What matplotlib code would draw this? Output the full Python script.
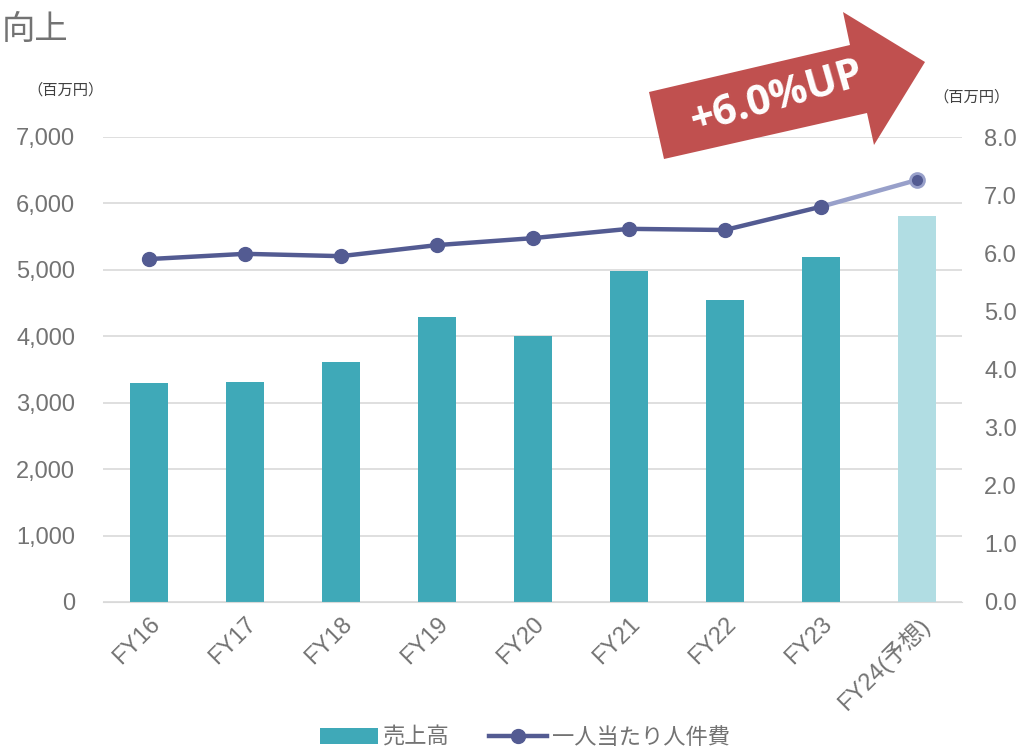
import matplotlib.pyplot as plt
from matplotlib.patches import Polygon, Patch
from matplotlib.lines import Line2D

plt.rcParams['font.family'] = ['Liberation Sans', 'Noto Sans CJK JP', 'DejaVu Sans']

categories = ['FY16', 'FY17', 'FY18', 'FY19', 'FY20', 'FY21', 'FY22', 'FY23', 'FY24(予想)']
sales = [3290, 3310, 3610, 4290, 4000, 4980, 4540, 5190, 5810]
cost_per_person = [5.90, 5.99, 5.95, 6.14, 6.26, 6.42, 6.40, 6.80, 7.26]
left_ticks = [0, 1000, 2000, 3000, 4000, 5000, 6000, 7000]
right_ticks = [0, 1, 2, 3, 4, 5, 6, 7, 8]

teal = '#3FA9B8'
teal_light = '#B1DDE3'
navy = '#535B92'
navy_light = '#98A0CA'
grey = '#737373'

fig = plt.figure(figsize=(10.18, 7.5), dpi=100)
ax = fig.add_axes([103 / 1018, 1 - 602 / 750, 859 / 1018, 465 / 750])
ax2 = ax.twinx()

x = list(range(len(categories)))
colors = [teal] * (len(categories) - 1) + [teal_light]
ax.bar(x, sales, width=0.4, color=colors, zorder=2)
ax.set_ylim(0, 7000)
ax.set_xlim(-0.48, 8.47)
ax.set_yticks(left_ticks)
ax.set_yticklabels([f'{v:,}' for v in left_ticks])
ax.grid(axis='y', color='#D9D9D9', linewidth=1.2, zorder=0)
ax.set_axisbelow(True)
ax.set_xticks(x)
ax.set_xticklabels(categories, rotation=45, ha='right', rotation_mode='anchor')
ax.tick_params(axis='y', length=0, pad=20, labelsize=17, labelcolor=grey)
ax.tick_params(axis='x', length=0, pad=8, labelsize=17, labelcolor=grey)
for s in ax.spines.values():
    s.set_visible(False)
ax.spines['bottom'].set_visible(True)
ax.spines['bottom'].set_color('#D9D9D9')

# line: solid actuals, lighter forecast segment
ax2.plot(x[:-1], cost_per_person[:-1], color=navy, linewidth=3.2, zorder=3)
ax2.plot(x[-2:], cost_per_person[-2:], color=navy_light, linewidth=3.2, zorder=3)
ax2.plot(x[:-1], cost_per_person[:-1], 'o', color=navy, markersize=10, zorder=4)
ax2.plot(x[-1:], cost_per_person[-1:], 'o', color=navy, markeredgecolor=navy_light,
         markeredgewidth=2, markersize=10, zorder=4)
ax2.set_ylim(0, 8)
ax2.set_yticks(right_ticks)
ax2.set_yticklabels([f'{v:.1f}' for v in right_ticks])
ax2.tick_params(axis='y', length=0, pad=16, labelsize=17, labelcolor=grey)
for s in ax2.spines.values():
    s.set_visible(False)

fig.text(0.002, 1 - 30 / 750, '向上', fontsize=24, color=grey, va='center', ha='left')
fig.text(66 / 1018, 1 - 90 / 750, '（百万円）', fontsize=11, color='#404040', va='center', ha='center')
fig.text(972 / 1018, 1 - 97 / 750, '（百万円）', fontsize=11, color='#404040', va='center', ha='center')

# red arrow badge
arrow_px = [(649, 92), (850, 45), (843, 12), (925, 62), (874, 145), (867, 113), (664, 159)]
arrow = Polygon([(px / 1018, 1 - py / 750) for px, py in arrow_px], closed=True,
                transform=fig.transFigure, facecolor='#C0504F', edgecolor='none', zorder=5)
fig.patches.append(arrow)
fig.text(777 / 1018, 1 - 98 / 750, '+6.0%UP', fontsize=30, fontweight='bold', color='white',
         rotation=16, ha='center', va='center', family=['Open Sans', 'DejaVu Sans'], zorder=6)

handles = [Patch(facecolor=teal),
           Line2D([0], [0], color=navy, linewidth=3.2, marker='o', markersize=10)]
fig.legend(handles, ['売上高', '一人当たり人件費'], loc='center', bbox_to_anchor=(525 / 1018, 1 - 738 / 750),
           ncol=2, frameon=False, fontsize=16, labelcolor=grey, handlelength=2.6,
           columnspacing=1.8, handletextpad=0.2)

fig.savefig('out.png', dpi=100)
